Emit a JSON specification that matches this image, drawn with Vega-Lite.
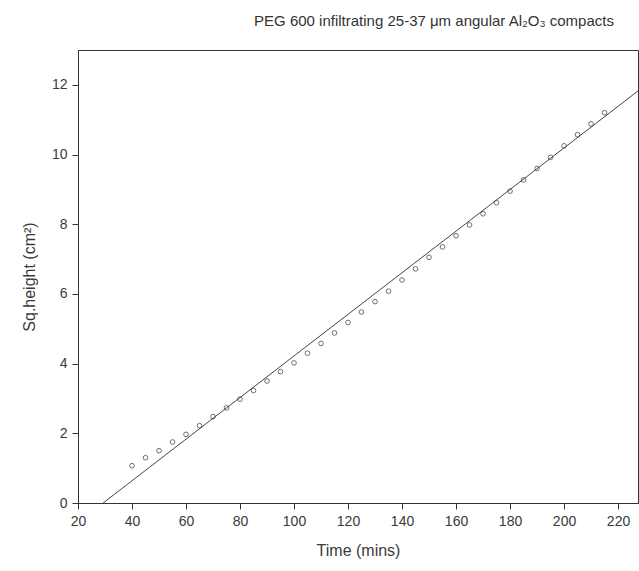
{
  "$schema": "https://vega.github.io/schema/vega-lite/v6.json",
  "autosize": {"type": "none"},
  "padding": {"left": 78, "top": 50, "right": 1, "bottom": 68},
  "width": 560,
  "height": 453,
  "background": "white",
  "config": {
    "font": "Liberation Sans",
    "view": {"stroke": "#333", "strokeWidth": 1},
    "axis": {"grid": false, "domainColor": "#333", "tickColor": "#333", "labelColor": "#3a3a3a", "titleColor": "#3a3a3a", "labelFontSize": 14, "titleFontSize": 16, "titleFontWeight": "normal", "labelFont": "Liberation Sans", "titleFont": "Liberation Sans"}
  },
  "title": {
    "text": "PEG 600 infiltrating 25-37 μm angular Al₂O₃ compacts",
    "fontSize": 15,
    "fontWeight": "normal",
    "color": "#333",
    "anchor": "middle",
    "dx": 76,
    "offset": 21
  },
  "datasets": {
    "pts": [
      {"t": 40, "h": 1.07}, {"t": 45, "h": 1.3}, {"t": 50, "h": 1.5}, {"t": 55, "h": 1.75},
      {"t": 60, "h": 1.97}, {"t": 65, "h": 2.22}, {"t": 70, "h": 2.48}, {"t": 75, "h": 2.73},
      {"t": 80, "h": 2.98}, {"t": 85, "h": 3.23}, {"t": 90, "h": 3.5}, {"t": 95, "h": 3.77},
      {"t": 100, "h": 4.02}, {"t": 105, "h": 4.3}, {"t": 110, "h": 4.58}, {"t": 115, "h": 4.88},
      {"t": 120, "h": 5.18}, {"t": 125, "h": 5.48}, {"t": 130, "h": 5.78}, {"t": 135, "h": 6.08},
      {"t": 140, "h": 6.4}, {"t": 145, "h": 6.72}, {"t": 150, "h": 7.05}, {"t": 155, "h": 7.35},
      {"t": 160, "h": 7.67}, {"t": 165, "h": 7.98}, {"t": 170, "h": 8.3}, {"t": 175, "h": 8.62},
      {"t": 180, "h": 8.95}, {"t": 185, "h": 9.27}, {"t": 190, "h": 9.6}, {"t": 195, "h": 9.92},
      {"t": 200, "h": 10.25}, {"t": 205, "h": 10.57}, {"t": 210, "h": 10.88}, {"t": 215, "h": 11.2}
    ],
    "fit": [
      {"t": 29.3, "h": 0},
      {"t": 230, "h": 11.98}
    ]
  },
  "layer": [
    {
      "data": {"name": "fit"},
      "mark": {"type": "line", "color": "#444", "strokeWidth": 1, "clip": true},
      "encoding": {
        "x": {"field": "t", "type": "quantitative", "scale": {"domain": [20, 227.4], "nice": false, "zero": false},
          "axis": {"title": "Time (mins)", "values": [20,30,40,50,60,70,80,90,100,110,120,130,140,150,160,170,180,190,200,210,220],
            "labelExpr": "datum.value % 20 === 0 ? datum.label : ''",
            "tickSize": {"condition": {"test": "datum.value % 20 === 0", "value": 6}, "value": 3},
            "labelPadding": 5, "titlePadding": 14, "labelFlush": false}},
        "y": {"field": "h", "type": "quantitative", "scale": {"domain": [0, 13], "nice": false},
          "axis": {"title": "Sq.height (cm²)", "values": [0,1,2,3,4,5,6,7,8,9,10,11,12],
            "labelExpr": "datum.value % 2 === 0 ? datum.label : ''",
            "tickSize": {"condition": {"test": "datum.value % 2 === 0", "value": 6}, "value": 3},
            "labelPadding": 5, "titlePadding": 14}}
      }
    },
    {
      "data": {"name": "pts"},
      "mark": {"type": "point", "shape": "circle", "filled": false, "color": "#333", "strokeWidth": 1, "size": 22},
      "encoding": {
        "x": {"field": "t", "type": "quantitative"},
        "y": {"field": "h", "type": "quantitative"}
      }
    }
  ]
}
